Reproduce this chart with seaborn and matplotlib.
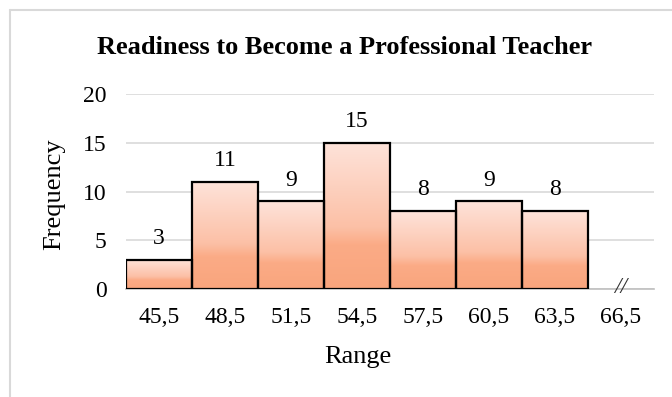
import matplotlib
matplotlib.use("Agg")
import matplotlib.pyplot as plt
import numpy as np
import pandas as pd
import seaborn as sns
from matplotlib.colors import LinearSegmentedColormap
from matplotlib.lines import Line2D

# data
ranges = ["45,5", "48,5", "51,5", "54,5", "57,5", "60,5", "63,5", "66,5"]
freqs = [3, 11, 9, 15, 8, 9, 8, 0]

sns.set_theme(style="white")
plt.rcParams["font.family"] = ["Liberation Serif", "DejaVu Serif"]
plt.rcParams["text.color"] = "black"

df = pd.DataFrame({"range": ranges, "freq": freqs})

W, H = 672, 397
fig = plt.figure(figsize=(W / 100, H / 100), dpi=100)
ax = fig.add_axes([126 / W, 1 - 289 / H, 528 / W, 195 / H])

sns.barplot(data=df, x="range", y="freq", order=ranges, width=1.0,
            color="white", edgecolor="black", linewidth=1.6, ax=ax, zorder=3)

# gradient fill inside each bar
cmap = LinearSegmentedColormap.from_list(
    "peach", [(0.0, "#f9a57d"), (0.3, "#fbab86"), (0.42, "#fcc0a6"), (1.0, "#fee3da")])
grad = np.linspace(0, 1, 256).reshape(-1, 1)
for p in ax.patches:
    h = p.get_height()
    if h <= 0:
        p.set_visible(False)
        continue
    p.set_facecolor("none")
    x0 = p.get_x()
    w = p.get_width()
    im = ax.imshow(grad, cmap=cmap, aspect="auto", origin="lower",
                   extent=[x0, x0 + w, 0, h], zorder=2)
    im.set_clip_path(p)
    ax.text(x0 + w / 2, h + 1.6, f"{int(h)}", ha="center", va="baseline",
            fontsize=17, color="black")

ax.set_xlim(-0.5, len(ranges) - 0.5)
ax.set_ylim(0, 20)
ax.set_yticks([0, 5, 10, 15, 20])
ax.yaxis.grid(True, color="#d9d9d9", linewidth=1.2, zorder=0)
ax.set_axisbelow(True)
for s in ["top", "right", "left"]:
    ax.spines[s].set_visible(False)
ax.spines["bottom"].set_color("#bfbfbf")
ax.spines["bottom"].set_linewidth(1.2)
ax.tick_params(axis="y", length=0, pad=14, labelsize=17, colors="black")
ax.tick_params(axis="x", length=0, pad=13, labelsize=17, colors="black")
ax.set_xlabel("")
ax.set_ylabel("")

# axis titles
fig.text(358 / W, 1 - 357 / H, "Range", ha="center", va="center", fontsize=19)
fig.text(54 / W, 1 - 194 / H, "Frequency", ha="center", va="center",
         rotation=90, fontsize=19)

# axis break mark at the empty last category
ax.text(len(ranges) - 1, 0.2, "//", ha="center", va="center", fontsize=17,
        style="italic", color="#333333")

fig.text(345 / W, 1 - 48 / H, "Readiness to Become a Professional Teacher",
         ha="center", va="center", fontsize=19, fontweight="bold")

# chart frame: only top and left edges are visible in the crop
frame = "#d9d9d9"
fig.add_artist(Line2D([10 / W, 10 / W], [0, 1 - 10 / H], transform=fig.transFigure,
                      color=frame, linewidth=1.5))
fig.add_artist(Line2D([10 / W, 1], [1 - 10 / H, 1 - 10 / H], transform=fig.transFigure,
                      color=frame, linewidth=1.5))

fig.savefig("out.png", dpi=100)
